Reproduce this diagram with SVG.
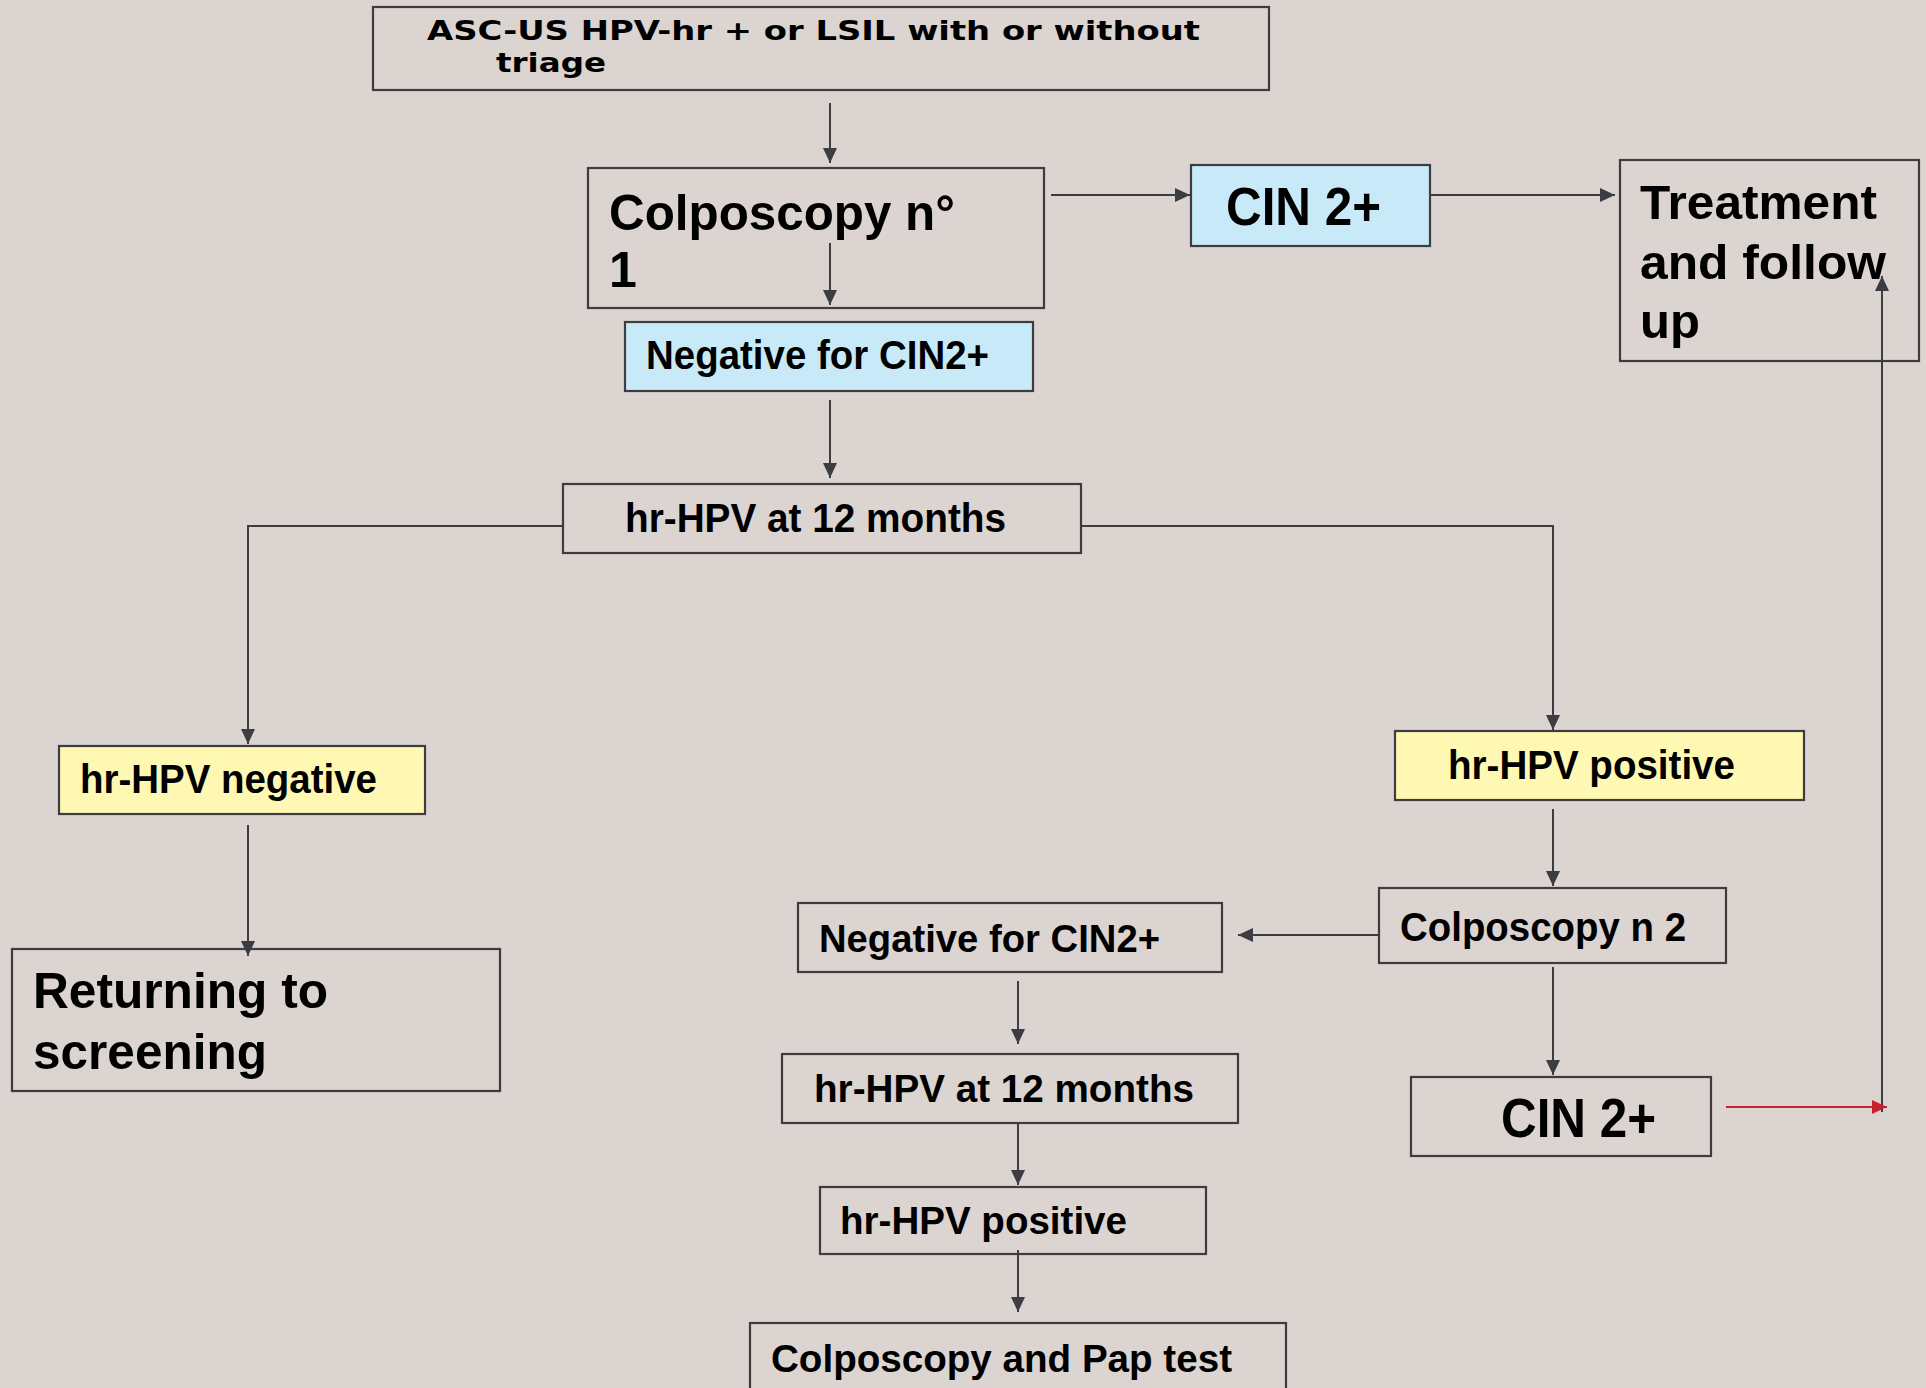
<svg xmlns="http://www.w3.org/2000/svg" width="1926" height="1388" viewBox="0 0 1926 1388">
<style>
.bg{fill:#dbd4d1}
.box{fill:none;stroke:#3c3c42;stroke-width:2.2}
.yel{fill:#fff8b2;stroke:#3c3c42;stroke-width:2.2}
.blu{fill:#c7e9f8;stroke:#3c3c42;stroke-width:2.2}
.t{font-family:"Liberation Sans",Arial,sans-serif;font-weight:bold;fill:#000}
.n{font-family:"Liberation Sans Narrow","Liberation Sans",Arial,sans-serif;font-weight:bold;fill:#000}
.v{font-family:"DejaVu Sans Condensed","DejaVu Sans",sans-serif;font-weight:bold;fill:#000}
.c{fill:none;stroke:#3c3c42;stroke-width:2}
.r{fill:none;stroke:#c8202e;stroke-width:2}
</style>
<defs>
<marker id="a" markerUnits="userSpaceOnUse" markerWidth="16" markerHeight="14" refX="15" refY="7" orient="auto"><path d="M0,0 L15,7 L0,14 Z" fill="#3c3c42"/></marker>
<marker id="ar" markerUnits="userSpaceOnUse" markerWidth="16" markerHeight="14" refX="15" refY="7" orient="auto"><path d="M0,0 L15,7 L0,14 Z" fill="#c8202e"/></marker>
</defs>
<rect class="bg" x="0" y="0" width="1926" height="1388"/>

<g id="connectors">
<path class="c" d="M830,103 V163" marker-end="url(#a)"/>
<path class="c" d="M830,243 V305" marker-end="url(#a)"/>
<path class="c" d="M1051,195 H1190" marker-end="url(#a)"/>
<path class="c" d="M1430,195 H1615" marker-end="url(#a)"/>
<path class="c" d="M830,400 V478" marker-end="url(#a)"/>
<path class="c" d="M563,526 H248 V744" marker-end="url(#a)"/>
<path class="c" d="M1081,526 H1553 V730" marker-end="url(#a)"/>
<path class="c" d="M248,825 V956" marker-end="url(#a)"/>
<path class="c" d="M1553,809 V886" marker-end="url(#a)"/>
<path class="c" d="M1379,935 H1238" marker-end="url(#a)"/>
<path class="c" d="M1553,967 V1075" marker-end="url(#a)"/>
<path class="c" d="M1018,981 V1044" marker-end="url(#a)"/>
<path class="c" d="M1018,1123 V1185" marker-end="url(#a)"/>
<path class="c" d="M1018,1250 V1312" marker-end="url(#a)"/>
<path class="c" d="M1882,1112 V276" marker-end="url(#a)"/>
<path class="r" d="M1726,1107 H1887" marker-end="url(#ar)"/>
</g>

<g id="n-start">
<rect class="box" x="373" y="7" width="896" height="83"/>
<text class="v" x="427" y="40" font-size="26" textLength="773" lengthAdjust="spacingAndGlyphs">ASC-US HPV-hr + or LSIL with or without</text>
<text class="v" x="496" y="72" font-size="26" textLength="110" lengthAdjust="spacingAndGlyphs">triage</text>
</g>

<g id="n-colpo1">
<rect class="box" x="588" y="168" width="456" height="140"/>
<text class="n" x="609" y="230" font-size="50" textLength="346" lengthAdjust="spacingAndGlyphs">Colposcopy n°</text>
<text class="n" x="609" y="287" font-size="50">1</text>
</g>

<g id="n-neg1">
<rect class="blu" x="625" y="322" width="408" height="69"/>
<text class="n" x="646" y="369" font-size="40" textLength="343" lengthAdjust="spacingAndGlyphs">Negative for CIN2+</text>
</g>

<g id="n-cin1">
<rect class="blu" x="1191" y="165" width="239" height="81"/>
<text class="n" x="1226" y="225" font-size="54" textLength="155" lengthAdjust="spacingAndGlyphs">CIN 2+</text>
</g>

<g id="n-treat">
<rect class="box" x="1620" y="160" width="299" height="201"/>
<text class="t" x="1640" y="219" font-size="49" textLength="237" lengthAdjust="spacingAndGlyphs">Treatment</text>
<text class="t" x="1640" y="279" font-size="49" textLength="246" lengthAdjust="spacingAndGlyphs">and follow</text>
<text class="t" x="1640" y="338" font-size="49">up</text>
</g>

<g id="n-hpv12a">
<rect class="box" x="563" y="484" width="518" height="69"/>
<text class="n" x="625" y="532" font-size="40" textLength="381" lengthAdjust="spacingAndGlyphs">hr-HPV at 12 months</text>
</g>

<g id="n-hpvneg">
<rect class="yel" x="59" y="746" width="366" height="68"/>
<text class="n" x="80" y="793" font-size="40" textLength="297" lengthAdjust="spacingAndGlyphs">hr-HPV negative</text>
</g>

<g id="n-return">
<rect class="box" x="12" y="949" width="488" height="142"/>
<text class="t" x="33" y="1008" font-size="50" textLength="295" lengthAdjust="spacingAndGlyphs">Returning to</text>
<text class="t" x="33" y="1069" font-size="50" textLength="234" lengthAdjust="spacingAndGlyphs">screening</text>
</g>

<g id="n-hpvpos1">
<rect class="yel" x="1395" y="731" width="409" height="69"/>
<text class="n" x="1448" y="779" font-size="40" textLength="287" lengthAdjust="spacingAndGlyphs">hr-HPV positive</text>
</g>

<g id="n-colpo2">
<rect class="box" x="1379" y="888" width="347" height="75"/>
<text class="n" x="1400" y="941" font-size="40" textLength="286" lengthAdjust="spacingAndGlyphs">Colposcopy n 2</text>
</g>

<g id="n-cin2">
<rect class="box" x="1411" y="1077" width="300" height="79"/>
<text class="n" x="1501" y="1137" font-size="56" textLength="155" lengthAdjust="spacingAndGlyphs">CIN 2+</text>
</g>

<g id="n-neg2">
<rect class="box" x="798" y="903" width="424" height="69"/>
<text class="t" x="819" y="952" font-size="38" textLength="341" lengthAdjust="spacingAndGlyphs">Negative for CIN2+</text>
</g>

<g id="n-hpv12b">
<rect class="box" x="782" y="1054" width="456" height="69"/>
<text class="t" x="814" y="1102" font-size="38" textLength="380" lengthAdjust="spacingAndGlyphs">hr-HPV at 12 months</text>
</g>

<g id="n-hpvpos2">
<rect class="box" x="820" y="1187" width="386" height="67"/>
<text class="t" x="840" y="1234" font-size="38" textLength="287" lengthAdjust="spacingAndGlyphs">hr-HPV positive</text>
</g>

<g id="n-colpopap">
<rect class="box" x="750" y="1323" width="536" height="80"/>
<text class="t" x="771" y="1372" font-size="38" textLength="461" lengthAdjust="spacingAndGlyphs">Colposcopy and Pap test</text>
</g>
</svg>
